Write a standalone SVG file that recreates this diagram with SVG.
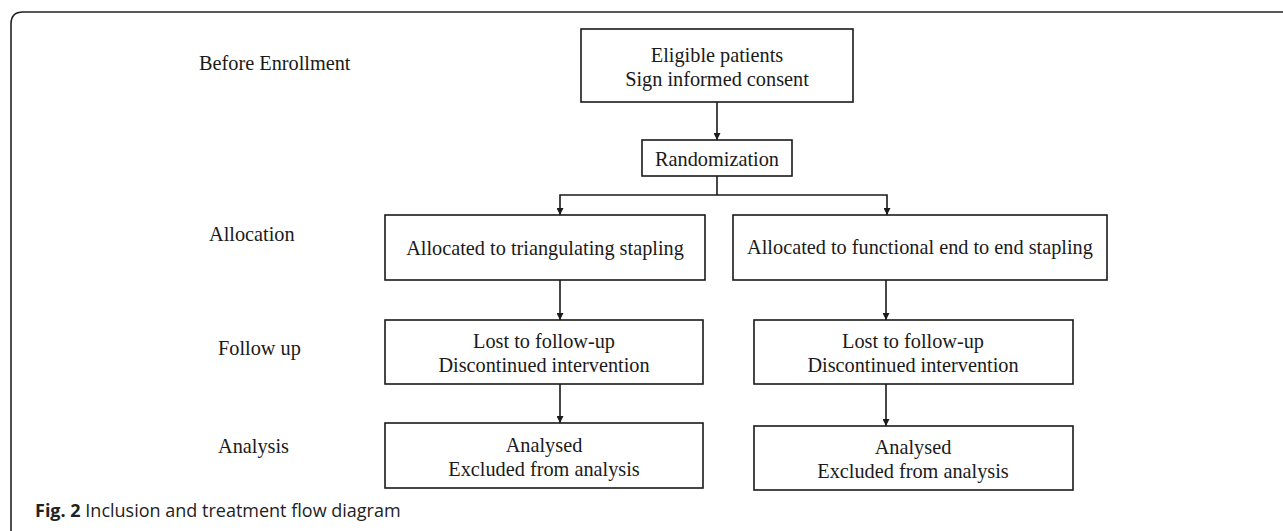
<svg xmlns="http://www.w3.org/2000/svg" width="1283" height="531" viewBox="0 0 1283 531">
<style>
.bx{fill:#fff;stroke:#1a1a1a;stroke-width:1.6}
.t{font-family:"Liberation Serif","Times New Roman",serif;font-size:20.3px;fill:#1a1a1a;text-anchor:middle}
.lb{font-family:"Liberation Serif","Times New Roman",serif;font-size:20.3px;fill:#1a1a1a}
.c{fill:none;stroke:#1a1a1a;stroke-width:1.6}
.frame{fill:none;stroke:#222;stroke-width:1.6}
</style>
<defs>
<marker id="ah" viewBox="0 0 10 10" refX="10" refY="5" markerWidth="7" markerHeight="7" markerUnits="userSpaceOnUse" orient="auto">
<path d="M0,0 L10,5 L0,10 z" fill="#1a1a1a"/>
</marker>
</defs>
<rect width="1283" height="531" fill="#fff"/>
<path class="frame" d="M11,531 L11,24 Q11,12 23,12 L1283,12"/>
<g id="stage-labels">
<text class="lb" x="199" y="70">Before Enrollment</text>
<text class="lb" x="209" y="241">Allocation</text>
<text class="lb" x="218" y="355">Follow up</text>
<text class="lb" x="218" y="453">Analysis</text>
</g>
<g id="eligible">
<rect class="bx" x="581" y="29" width="272" height="73"/>
<text class="t" x="717" y="62">Eligible patients</text>
<text class="t" x="717" y="86">Sign informed consent</text>
</g>
<g id="randomization">
<rect class="bx" x="642" y="140" width="150" height="36"/>
<text class="t" x="717" y="166">Randomization</text>
</g>
<g id="alloc-left">
<rect class="bx" x="385" y="215" width="320" height="65"/>
<text class="t" x="545" y="255">Allocated to triangulating stapling</text>
</g>
<g id="alloc-right">
<rect class="bx" x="733" y="215" width="374" height="65"/>
<text class="t" x="920" y="254">Allocated to functional end to end stapling</text>
</g>
<g id="follow-left">
<rect class="bx" x="385" y="320" width="318" height="64"/>
<text class="t" x="544" y="348">Lost to follow-up</text>
<text class="t" x="544" y="372">Discontinued intervention</text>
</g>
<g id="follow-right">
<rect class="bx" x="754" y="320" width="319" height="64"/>
<text class="t" x="913" y="348">Lost to follow-up</text>
<text class="t" x="913" y="372">Discontinued intervention</text>
</g>
<g id="analysis-left">
<rect class="bx" x="385" y="423" width="318" height="65"/>
<text class="t" x="544" y="452">Analysed</text>
<text class="t" x="544" y="476">Excluded from analysis</text>
</g>
<g id="analysis-right">
<rect class="bx" x="754" y="426" width="319" height="64"/>
<text class="t" x="913" y="454">Analysed</text>
<text class="t" x="913" y="478">Excluded from analysis</text>
</g>
<g id="connectors">
<line class="c" x1="717" y1="102" x2="717" y2="140" marker-end="url(#ah)"/>
<polyline class="c" points="717,176 717,195"/>
<polyline class="c" points="717,195 560,195 560,215" marker-end="url(#ah)"/>
<polyline class="c" points="717,195 887,195 887,215" marker-end="url(#ah)"/>
<line class="c" x1="560" y1="280" x2="560" y2="320" marker-end="url(#ah)"/>
<line class="c" x1="886" y1="280" x2="886" y2="320" marker-end="url(#ah)"/>
<line class="c" x1="560" y1="384" x2="560" y2="423" marker-end="url(#ah)"/>
<line class="c" x1="886" y1="384" x2="886" y2="426" marker-end="url(#ah)"/>
</g>
<g id="caption">
<text x="35" y="517" style="font-family:'Open Sans','Noto Sans',sans-serif;font-size:18px;fill:#222"><tspan font-weight="bold">Fig. 2</tspan> Inclusion and treatment flow diagram</text>
</g>
</svg>
